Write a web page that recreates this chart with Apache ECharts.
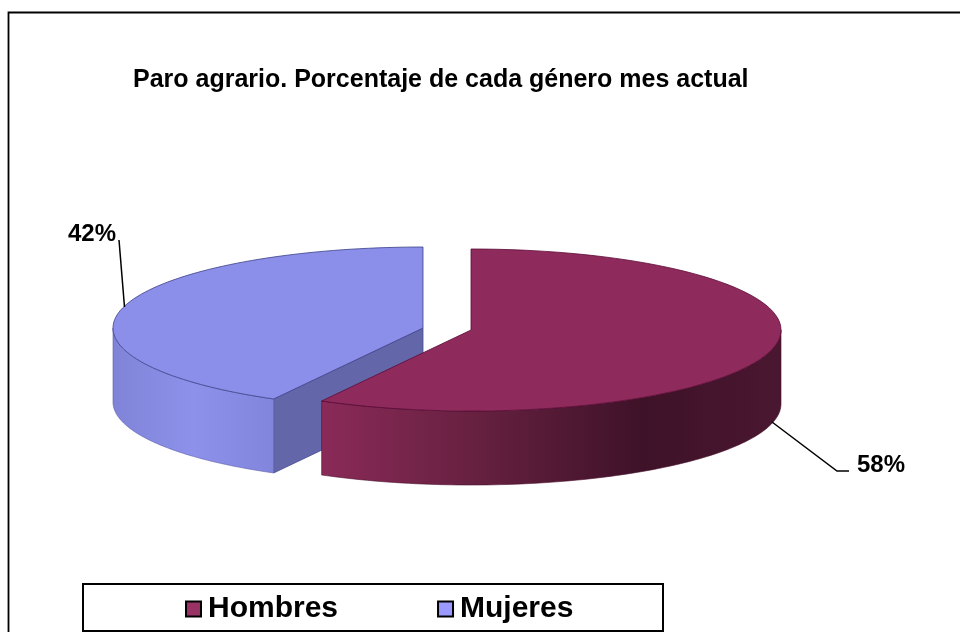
<!DOCTYPE html>
<html>
<head>
<meta charset="utf-8">
<style>html,body{margin:0;padding:0;background:#fff}#c{width:960px;height:632px}</style>
<script src="https://cdn.jsdelivr.net/npm/echarts@6/dist/echarts.min.js"></script>
</head>
<body>
<div id="c"></div>
<script>
const chartTitle = 'Paro agrario. Porcentaje de cada género mes actual';
const categories = ['Hombres', 'Mujeres'];
const values = [58, 42];
const legendColors = ['#993366', '#9999ff'];

// Visual style of each slice, in the same order as the categories
const styles = [
  { top: '#8e2b5c', edge: '#5c0a36',
    wall: [[0, '#8a2a58'], [0.35, '#65203f'], [0.7, '#3e1228'], [1, '#4a1730']] },
  { top: '#8b8fe9', edge: '#3c4088',
    wall: [[0, '#7f84d8'], [0.5, '#8d91ea'], [1, '#8185dc']] }
];
const innerWallColor = '#6367a9';

// Layout of the elliptical pie
const layout = {
  depth: 74, rx: 310, ry: 81,
  centers: [[471, 330], [423, 328]]
};

// Label anchors
const labelLines = [
  [[772, 422], [837, 471], [849, 471]],
  [[124.5, 307], [119, 240]]
];
const labelPos = [[881, 465], [92, 234]];

const chart = echarts.init(document.getElementById('c'), null, { renderer: 'canvas' });
const total = values.reduce((a, b) => a + b, 0);

// Slice i spans from the 12 o'clock line: Hombres clockwise, Mujeres counter-clockwise.
function sweep(i) { return values[i] / total * 2 * Math.PI * (i === 0 ? 1 : -1); }

function pt(c, a, dy) {
  return [c[0] + layout.rx * Math.sin(a), c[1] - layout.ry * Math.cos(a) + (dy || 0)];
}
function arc(c, a0, a1, dy) {
  const n = 90, out = [];
  for (let k = 0; k <= n; k++) out.push(pt(c, a0 + (a1 - a0) * k / n, dy));
  return out;
}

function renderSlice(i) {
  const c = layout.centers[i], st = styles[i], end = sweep(i), d = layout.depth;
  const children = [];

  if (i === 1) {
    // Mujeres shows its cut face toward the viewer
    const e = pt(c, end);
    children.push({
      type: 'polygon',
      shape: { points: [[c[0], c[1]], e, [e[0], e[1] + d], [c[0], c[1] + d]] },
      style: { fill: innerWallColor, stroke: '#474b8c', lineWidth: 0.8 }
    });
  }

  // Outer wall: the visible part of the rim (front half of the ellipse)
  const wa0 = i === 0 ? Math.PI / 2 : -Math.PI / 2;
  const front = arc(c, wa0, end);
  const wall = front.concat(arc(c, end, wa0, d));
  children.push({
    type: 'polygon',
    shape: { points: wall },
    style: {
      fill: new echarts.graphic.LinearGradient(0, 0, 1, 0,
        st.wall.map(s => ({ offset: s[0], color: s[1] }))),
      stroke: i === 1 ? '#5a5ea8' : '#4a0f2e', lineWidth: 0.6
    }
  });

  // Top face
  children.push({
    type: 'polygon',
    shape: { points: [[c[0], c[1]]].concat(arc(c, 0, end)) },
    style: { fill: st.top, stroke: st.edge, lineWidth: 0.8 }
  });

  return { type: 'group', children: children };
}

function renderLabel(i) {
  return {
    type: 'group',
    children: [
      { type: 'polyline', shape: { points: labelLines[i] },
        style: { fill: null, stroke: '#000', lineWidth: 1.5 } },
      { type: 'text', style: {
          x: labelPos[i][0], y: labelPos[i][1], text: values[i] + '%',
          font: 'bold 24px "Liberation Sans", Arial, sans-serif',
          fill: '#000', align: 'center', verticalAlign: 'middle' } }
    ]
  };
}

// Mujeres is drawn first, Hombres overlaps it
const order = [1, 0];
const series = order.map(i => ({
  type: 'custom',
  name: categories[i],
  coordinateSystem: 'none',
  color: legendColors[i],
  itemStyle: { color: legendColors[i] },
  data: [values[i]],
  silent: true,
  animation: false,
  renderItem: () => ({ type: 'group', children: [renderSlice(i), renderLabel(i)] })
}));

chart.setOption({
  backgroundColor: '#fff',
  animation: false,
  title: {
    text: chartTitle, left: 133, top: 68, padding: 0,
    textStyle: { fontFamily: '"Liberation Sans", Arial, sans-serif', fontWeight: 'bold', fontSize: 25, color: '#000' }
  },
  legend: {
    data: categories.map((n, i) => ({
      name: n, icon: 'rect',
      itemStyle: { color: legendColors[i], borderColor: '#000', borderWidth: 2 }
    })),
    left: 185, top: 594, padding: 0,
    itemWidth: 15, itemHeight: 15, itemGap: 99, selectedMode: false,
    textStyle: { fontFamily: '"Liberation Sans", Arial, sans-serif', fontWeight: 'bold', fontSize: 30, color: '#000', padding: [0, 0, 0, 2] }
  },
  graphic: [
    { type: 'polyline', z: -1, shape: { points: [[8.5, 632], [8.5, 12.5], [960, 12.5]] },
      style: { fill: null, stroke: '#000', lineWidth: 1.8 } },
    { type: 'rect', z: -1, shape: { x: 83, y: 584, width: 580, height: 47 },
      style: { fill: '#fff', stroke: '#000', lineWidth: 2 } }
  ],
  series: series
});
</script>
</body>
</html>
